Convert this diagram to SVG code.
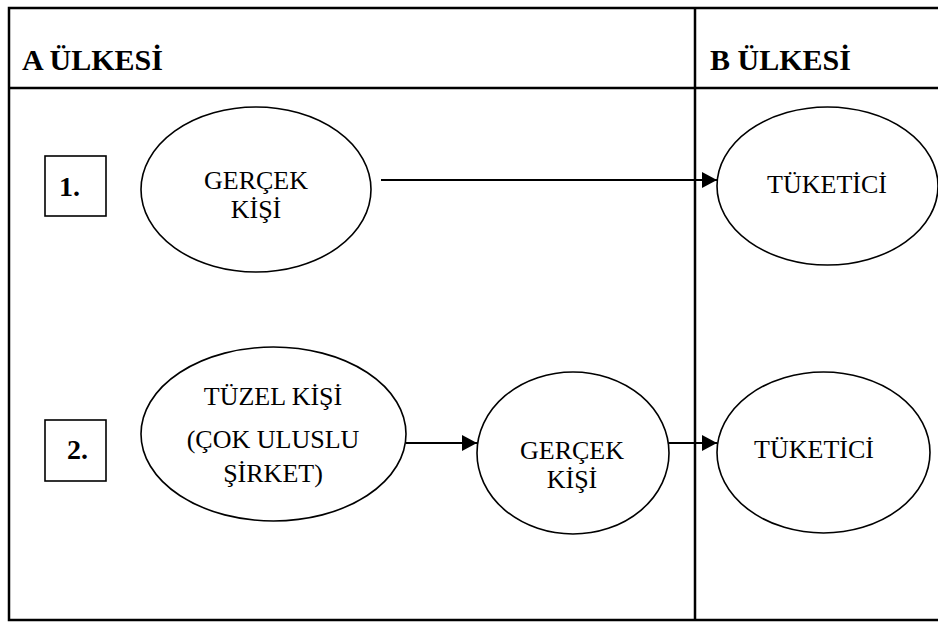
<svg xmlns="http://www.w3.org/2000/svg" width="938" height="622" viewBox="0 0 938 622">
<style>
.frame{stroke:#000;stroke-width:2.5;fill:none}
.node{fill:#fff;stroke:#000;stroke-width:1.6}
.box{fill:#fff;stroke:#000;stroke-width:1.6}
.t{font-family:"Liberation Serif","Times New Roman","DejaVu Serif",serif;font-size:26px;fill:#000;text-anchor:middle}
.h{font-family:"Liberation Serif","Times New Roman","DejaVu Serif",serif;font-size:30px;font-weight:bold;fill:#000}
.n{font-family:"Liberation Serif","Times New Roman","DejaVu Serif",serif;font-size:28px;font-weight:bold;fill:#000}
.c{stroke:#000;stroke-width:1.8;fill:none;marker-end:url(#ah)}
</style>
<defs>
<marker id="ah" markerWidth="16" markerHeight="16" refX="15" refY="8" orient="auto" markerUnits="userSpaceOnUse">
<path d="M0,0 L15,8 L0,16 Z" fill="#000"/>
</marker>
</defs>
<rect width="938" height="622" fill="#fff"/>
<g id="table">
<rect class="frame" x="9" y="8" width="940" height="612"/>
<line class="frame" x1="9" y1="88" x2="938" y2="88"/>
<line class="frame" x1="695" y1="8" x2="695" y2="620"/>
<text class="h" x="22" y="70">A ÜLKESİ</text>
<text class="h" x="710" y="70">B ÜLKESİ</text>
</g>
<g id="label1">
<rect class="box" x="45" y="156" width="61" height="60"/>
<text class="n" x="59" y="196">1.</text>
</g>
<g id="label2">
<rect class="box" x="45" y="420" width="61" height="61"/>
<text class="n" x="67" y="459">2.</text>
</g>
<g id="connectors">
<line class="c" x1="381" y1="180" x2="717" y2="180"/>
<line class="c" x1="406" y1="443" x2="477" y2="443"/>
<line class="c" x1="669" y1="443" x2="717" y2="443"/>
</g>
<g id="gercek1">
<ellipse class="node" cx="256" cy="189.5" rx="115" ry="82.5"/>
<text class="t" x="256" y="189">GERÇEK</text>
<text class="t" x="256" y="218">KİŞİ</text>
</g>
<g id="tuketici1">
<ellipse class="node" cx="827.5" cy="186" rx="110.5" ry="79"/>
<text class="t" x="827" y="193">TÜKETİCİ</text>
</g>
<g id="tuzel">
<ellipse class="node" cx="273.5" cy="434" rx="132.5" ry="87"/>
<text class="t" x="273" y="405">TÜZEL KİŞİ</text>
<text class="t" x="273" y="448">(ÇOK ULUSLU</text>
<text class="t" x="273" y="482">ŞİRKET)</text>
</g>
<g id="gercek2">
<ellipse class="node" cx="573" cy="453" rx="96" ry="81"/>
<text class="t" x="572" y="459">GERÇEK</text>
<text class="t" x="572" y="488">KİŞİ</text>
</g>
<g id="tuketici2">
<ellipse class="node" cx="823.5" cy="452.5" rx="106.5" ry="80.5"/>
<text class="t" x="814" y="458">TÜKETİCİ</text>
</g>
</svg>
